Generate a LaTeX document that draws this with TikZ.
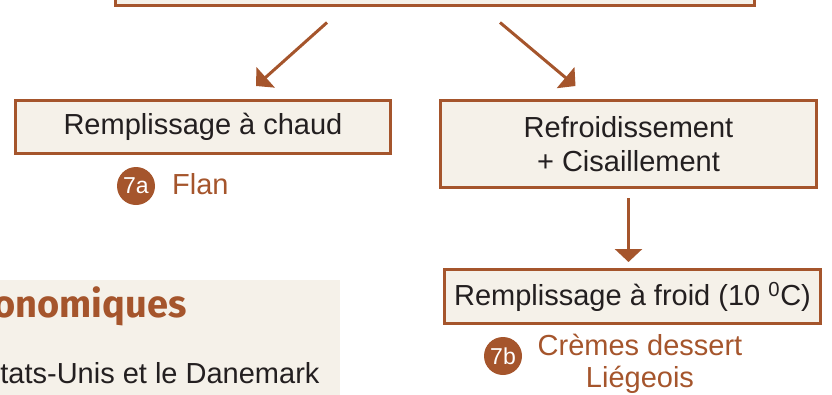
\documentclass[tikz,border=0pt]{standalone}
\usepackage{fontspec}
\setmainfont{Liberation Sans}
\newfontfamily\titlefont{Fira Sans}
\usetikzlibrary{arrows.meta}
\definecolor{brun}{HTML}{A5552C}
\definecolor{creme}{HTML}{F5F1E9}
\definecolor{encre}{HTML}{231F20}
\tikzset{
  stepbox/.style={draw=brun, line width=3pt, fill=creme, text=encre, align=center,
    inner sep=0pt, font=\fontsize{29}{34}\selectfont},
  flow/.style={draw=brun, line width=3pt, -{Triangle[width=27pt,length=13pt]}},
  badge/.style={circle, fill=brun, text=white, inner sep=0pt, minimum size=38pt,
    font=\fontsize{23}{23}\selectfont},
  prod/.style={text=brun, align=center, inner sep=0pt, font=\fontsize{29}{32}\selectfont},
}
\begin{document}
\begin{tikzpicture}[x=1pt,y=-1pt]
  \useasboundingbox (0,0) rectangle (832,394);
  % encadre du bas
  \fill[creme] (0,280) rectangle (340,400);
  \node[anchor=base east, text=brun, font=\titlefont\bfseries\fontsize{38}{38}\selectfont]
    (titre) at (190,317) {onomiques};
  \node[anchor=base east, text=encre, font=\fontsize{29}{34}\selectfont]
    (pays) at (323,383) {tats-Unis et le Danemark};
  % etapes
  \node[stepbox, minimum width=639pt, minimum height=60pt] (cuisson) at (435,-25) {};
  \node[stepbox, minimum width=375pt, minimum height=53pt] (chaud) at (203,127)
    {Remplissage à chaud};
  \node[stepbox, minimum width=376pt, minimum height=87pt] (refroid) at (628.5,144)
    {Refroidissement\\+ Cisaillement};
  \node[stepbox, minimum width=376pt, minimum height=54pt] (froid) at (632.5,296.5)
    {Remplissage à froid (10 \textsuperscript{0}C)};
  % produits
  \node[badge] (b7a) at (136,186) {7a};
  \node[prod, anchor=base west] (flan) at (172,194) {Flan};
  \node[badge] (b7b) at (503,356) {7b};
  \node[prod, anchor=base] (cremes) at (640,387) {Crèmes dessert\\Liégeois};
  % fleches
  \draw[flow] ([xshift=-108pt,yshift=-16pt]cuisson.south) -- ([xshift=53pt,yshift=13pt]chaud.north);
  \draw[flow] ([xshift=65pt,yshift=-16pt]cuisson.south) -- ([xshift=-53pt,yshift=13pt]refroid.north);
  \draw[flow] ([yshift=-9pt]refroid.south) -- ([yshift=6pt]refroid.south |- froid.north);
\end{tikzpicture}
\end{document}
